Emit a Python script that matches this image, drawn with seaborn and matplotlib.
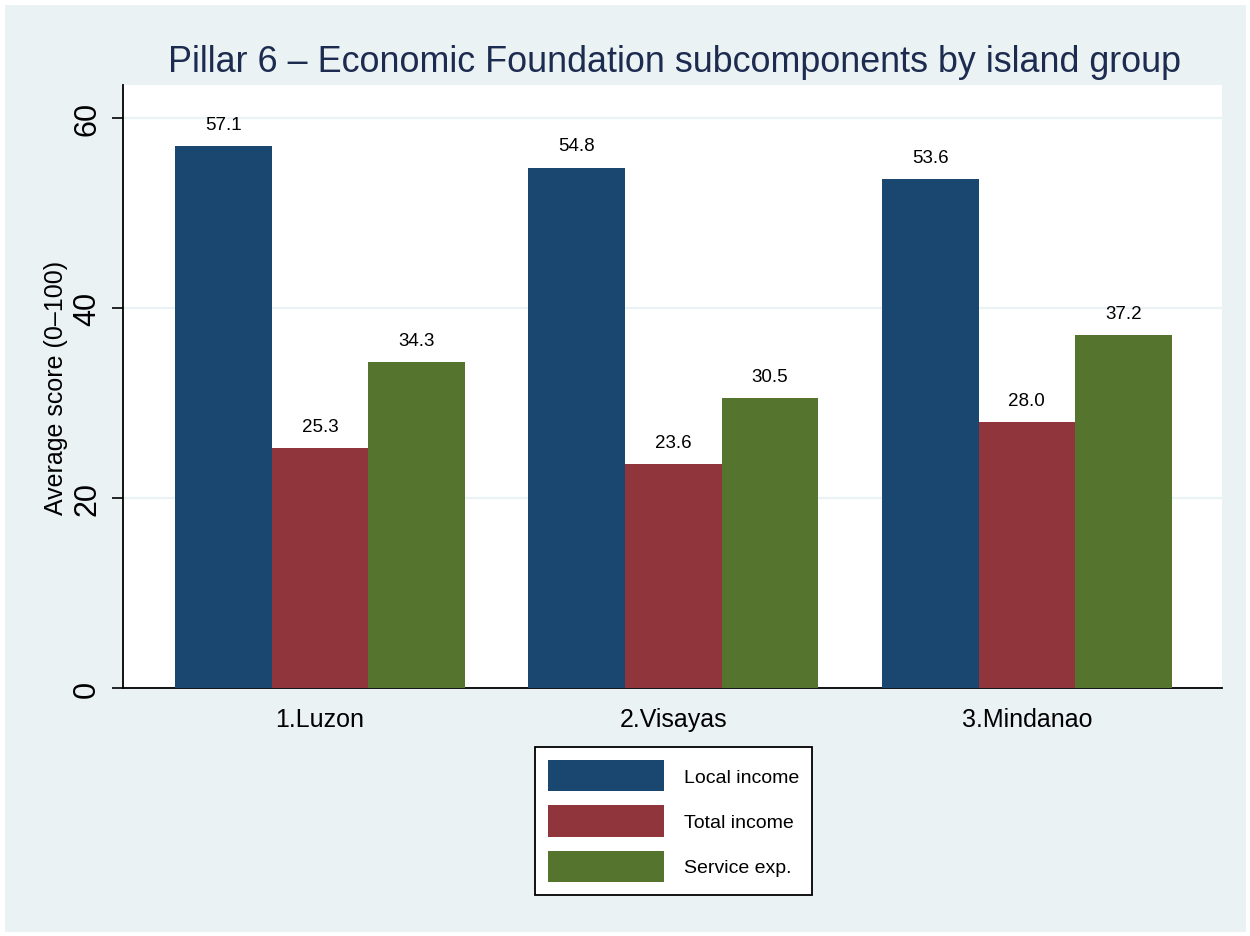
import matplotlib
matplotlib.use("Agg")
import matplotlib.pyplot as plt
from matplotlib.patches import Rectangle
import seaborn as sns
import pandas as pd

islands = ["1.Luzon", "2.Visayas", "3.Mindanao"]
components = ["Local income", "Total income", "Service exp."]
local_income = [57.1, 54.8, 53.6]
total_income = [25.3, 23.6, 28.0]
service_exp = [34.3, 30.5, 37.2]
yticks = [0, 20, 40, 60]

colors = ["#1A476F", "#90353B", "#55752F"]
bg = "#EAF2F3"

rows = []
for comp, vals in zip(components, [local_income, total_income, service_exp]):
    for isl, v in zip(islands, vals):
        rows.append({"island": isl, "component": comp, "score": v})
df = pd.DataFrame(rows)

sns.set_theme(style="white")
plt.rcParams["font.family"] = ["Liberation Sans", "DejaVu Sans"]
plt.rcParams["text.color"] = "black"
plt.rcParams["axes.labelcolor"] = "black"
plt.rcParams["xtick.color"] = "black"
plt.rcParams["ytick.color"] = "black"

fig = plt.figure(figsize=(12.5, 9.37), dpi=100)
fig.patch.set_facecolor("white")
fig.patches.append(Rectangle((5 / 1250, 4 / 937), 1 - 9 / 1250, 1 - 10 / 937,
                             transform=fig.transFigure,
                             facecolor=bg, edgecolor="none", zorder=-10))

ax = fig.add_axes([123 / 1250, 1 - 689 / 937, 1099 / 1250, 603 / 937])
ax.set_facecolor("white")

sns.barplot(data=df, x="island", y="score", hue="component", hue_order=components,
            order=islands, palette=colors, saturation=1, width=0.82, ax=ax,
            edgecolor="none", linewidth=0, errorbar=None, legend=True, zorder=3)

handles, labels = ax.get_legend_handles_labels()
ax.get_legend().remove()

# value labels above each bar
for cont in ax.containers:
    for bar in cont:
        h = bar.get_height()
        ax.annotate(f"{h:.1f}", (bar.get_x() + bar.get_width() / 2, h),
                    xytext=(0, 15.6), textcoords="offset points",
                    ha="center", va="center", fontsize=13.5, color="black")

ax.set_xlim(-0.557, 2.552)
ax.set_ylim(0, 63.5)
ax.set_yticks(yticks)
ax.set_yticklabels([str(t) for t in yticks], rotation=90, va="center", fontsize=22)
ax.yaxis.grid(True, color=bg, linewidth=1.6, zorder=0)
ax.set_axisbelow(True)
ax.tick_params(axis="y", direction="out", length=8, width=1.2, color="black",
               labelcolor="black", pad=7, left=True)
ax.tick_params(axis="x", length=0, pad=14, labelsize=18, labelcolor="black")
ax.set_xlabel("")
ax.set_ylabel("Average score (0\u2013100)", fontsize=18, labelpad=3, color="black")

for side in ["top", "right"]:
    ax.spines[side].set_visible(False)
for side in ["left", "bottom"]:
    ax.spines[side].set_color("black")
    ax.spines[side].set_linewidth(1.3)

fig.text(674 / 1250, 1 - 62 / 937,
         "Pillar 6 \u2013 Economic Foundation subcomponents by island group",
         ha="center", va="center", fontsize=25.8, color="#1C2B4F")

leg = fig.legend(handles, labels, loc="center", bbox_to_anchor=(673.5 / 1250, 1 - 822 / 937),
                 bbox_transform=fig.transFigure, fontsize=14, frameon=True,
                 fancybox=False, handlelength=6.0, handleheight=2.1, handletextpad=1.0,
                 labelspacing=0.72, borderpad=0.67, borderaxespad=0)
for t in leg.get_texts():
    t.set_color("black")
frame = leg.get_frame()
frame.set_edgecolor("black")
frame.set_linewidth(1.3)
frame.set_facecolor("white")
frame.set_alpha(1)

fig.savefig("out.png", dpi=100, facecolor=fig.get_facecolor())
